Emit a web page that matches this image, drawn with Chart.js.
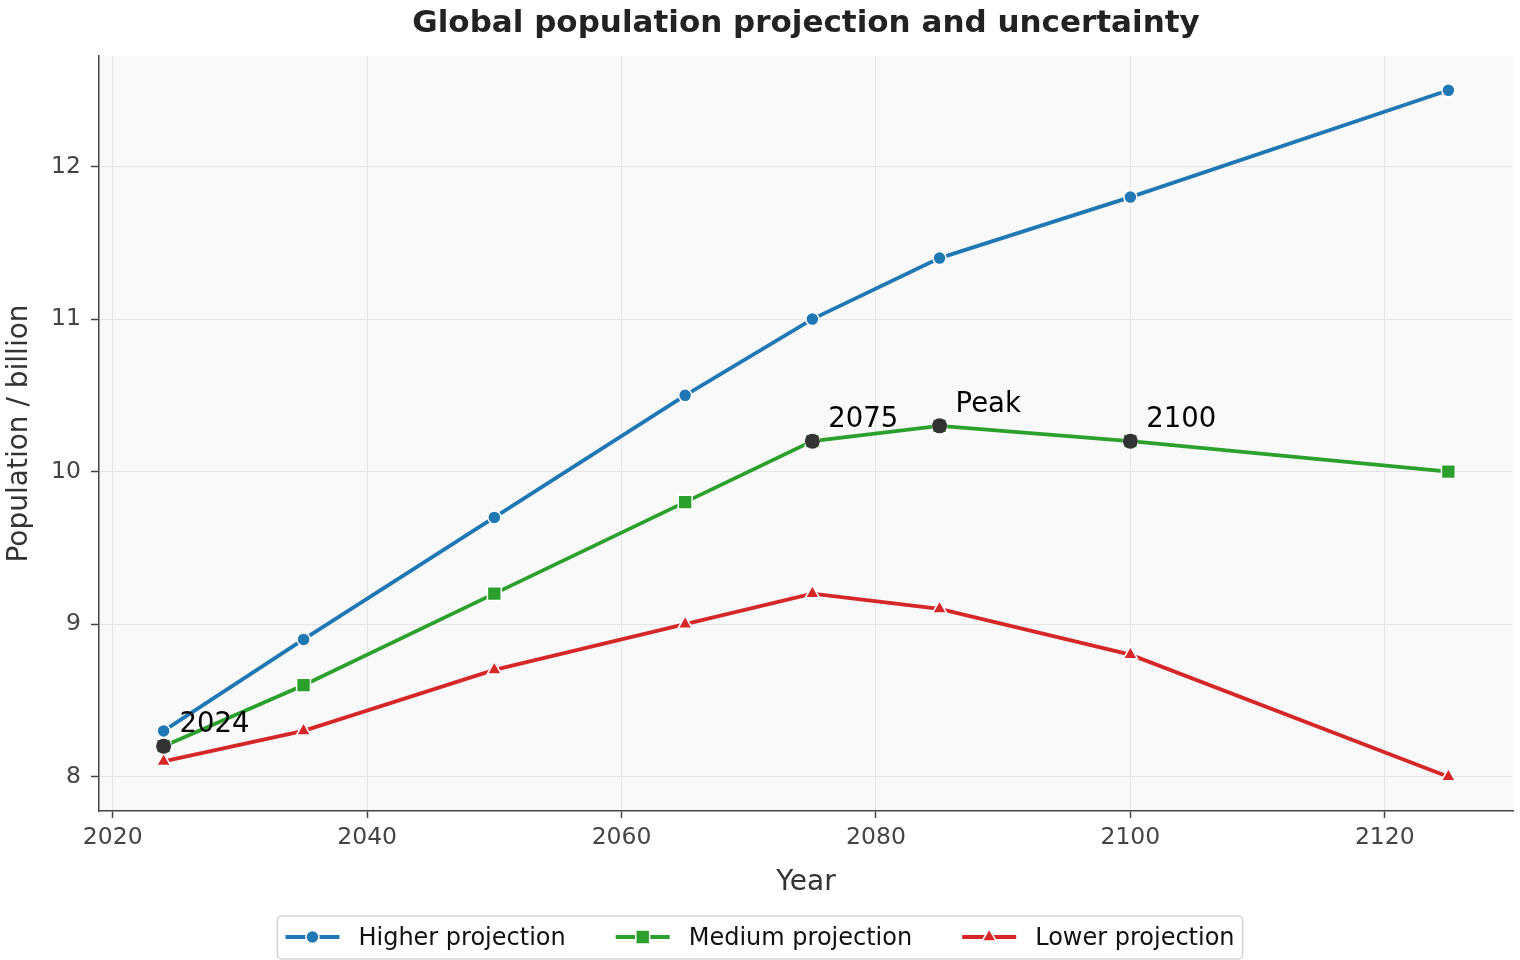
<!DOCTYPE html>
<html>
<head>
<meta charset="utf-8">
<script src="https://cdn.jsdelivr.net/npm/chart.js@4.4.1/dist/chart.umd.min.js"></script>
<style>
  html, body { margin: 0; padding: 0; background: #ffffff; }
  #wrap { width: 1520px; height: 960px; }
</style>
</head>
<body>
<div id="wrap"><canvas id="c" width="1520" height="960"></canvas></div>
<script>
// ---- data ----
const years = [2024, 2035, 2050, 2065, 2075, 2085, 2100, 2125];
const higher = [8.3, 8.9, 9.7, 10.5, 11.0, 11.4, 11.8, 12.5];
const medium = [8.2, 8.6, 9.2, 9.8, 10.2, 10.3, 10.2, 10.0];
const lower = [8.1, 8.3, 8.7, 9.0, 9.2, 9.1, 8.8, 8.0];
const seriesNames = ['Higher projection', 'Medium projection', 'Lower projection'];
const annotYears = [2024, 2075, 2085, 2100];
const annotValues = [8.2, 10.2, 10.3, 10.2];
const annotLabels = ['2024', '2075', 'Peak', '2100'];
const xTicks = [2020, 2040, 2060, 2080, 2100, 2120];
const yTicks = [8, 9, 10, 11, 12];
const titleText = 'Global population projection and uncertainty';
const xTitle = 'Year';
const yTitle = 'Population / billion';

const FONT = "'DejaVu Sans', 'Liberation Sans', sans-serif";
const colors = ['#1f77b4', '#2ca02c', '#d62728'];
const styles = ['circle', 'rect', 'triangle'];
const radii = [6.5, 9.8, 8.2];

const toPts = (vals) => years.map((y, i) => ({ x: y, y: vals[i] }));

const seriesData = [higher, medium, lower];
const datasets = seriesData.map((vals, i) => ({
  label: seriesNames[i],
  data: toPts(vals),
  borderColor: colors[i],
  backgroundColor: colors[i],
  borderWidth: 3.8,
  pointStyle: styles[i],
  pointRadius: radii[i],
  pointBorderColor: '#ffffff',
  pointBorderWidth: 1.5,
  tension: 0,
  fill: false,
  order: 3 - i,
  clip: false
}));
datasets.push({
  label: 'annotations',
  data: annotYears.map((y, i) => ({ x: y, y: annotValues[i] })),
  showLine: false,
  pointStyle: 'circle',
  pointRadius: 7.5,
  backgroundColor: '#333333',
  borderColor: '#333333',
  pointBorderWidth: 0,
  order: 0,
  clip: false
});

function drawMarker(ctx, style, x, y, r, color) {
  ctx.save();
  ctx.fillStyle = color;
  ctx.strokeStyle = '#ffffff';
  ctx.lineWidth = 1.5;
  ctx.beginPath();
  if (style === 'circle') {
    ctx.arc(x, y, r, 0, Math.PI * 2);
  } else if (style === 'rect') {
    const s = r * Math.SQRT1_2;
    ctx.rect(x - s, y - s, 2 * s, 2 * s);
  } else {
    let a = 0;
    ctx.moveTo(x + Math.sin(a) * r, y - Math.cos(a) * r);
    a += 2 * Math.PI / 3;
    ctx.lineTo(x + Math.sin(a) * r, y - Math.cos(a) * r);
    a += 2 * Math.PI / 3;
    ctx.lineTo(x + Math.sin(a) * r, y - Math.cos(a) * r);
    ctx.closePath();
  }
  ctx.fill();
  ctx.stroke();
  ctx.restore();
}

const decor = {
  id: 'decor',
  beforeDraw(chart) {
    const { ctx, chartArea: a } = chart;
    ctx.save();
    ctx.fillStyle = '#ffffff';
    ctx.fillRect(0, 0, chart.width, chart.height);
    ctx.fillStyle = '#f9f9f9';
    ctx.fillRect(a.left, a.top, a.right - a.left, a.bottom - a.top);
    ctx.restore();
  },
  afterDraw(chart) {
    const { ctx, chartArea: a } = chart;
    const xs = chart.scales.x, ys = chart.scales.y;
    ctx.save();
    // title
    ctx.fillStyle = '#222222';
    ctx.font = 'bold 31px ' + FONT;
    ctx.textAlign = 'center';
    ctx.textBaseline = 'alphabetic';
    ctx.fillText(titleText, (a.left + a.right) / 2, 32);
    // axis titles
    ctx.fillStyle = '#333333';
    ctx.font = '28px ' + FONT;
    ctx.fillText(xTitle, (a.left + a.right) / 2, 890);
    ctx.save();
    ctx.translate(20, (a.top + a.bottom) / 2);
    ctx.rotate(-Math.PI / 2);
    ctx.textBaseline = 'middle';
    ctx.fillText(yTitle, 0, 0);
    ctx.restore();
    // annotations
    ctx.fillStyle = '#000000';
    ctx.font = '27.5px ' + FONT;
    ctx.textAlign = 'left';
    ctx.textBaseline = 'alphabetic';
    annotYears.forEach((yr, i) => {
      const px = xs.getPixelForValue(yr);
      const py = ys.getPixelForValue(annotValues[i]);
      ctx.fillText(annotLabels[i], px + 16, py - 14);
    });
    // legend
    ctx.font = '24px ' + FONT;
    const handle = 54, gapText = 19, gapEntry = 50;
    const widths = seriesNames.map(n => ctx.measureText(n).width);
    const total = widths.reduce((s, w) => s + w, 0) + 3 * (handle + gapText) + 2 * gapEntry;
    const cx = 760;
    const bx0 = cx - total / 2 - 8, bx1 = cx + total / 2 + 8;
    const by0 = 916, by1 = 959;
    ctx.beginPath();
    if (ctx.roundRect) ctx.roundRect(bx0, by0, bx1 - bx0, by1 - by0, 4);
    else ctx.rect(bx0, by0, bx1 - bx0, by1 - by0);
    ctx.fillStyle = '#ffffff';
    ctx.fill();
    ctx.strokeStyle = '#d4d4d4';
    ctx.lineWidth = 1.5;
    ctx.stroke();
    let x = cx - total / 2;
    const ly = 937;
    seriesNames.forEach((n, i) => {
      ctx.strokeStyle = colors[i];
      ctx.lineWidth = 3.8;
      ctx.beginPath();
      ctx.moveTo(x, ly);
      ctx.lineTo(x + handle, ly);
      ctx.stroke();
      drawMarker(ctx, styles[i], x + handle / 2, ly, radii[i], colors[i]);
      ctx.fillStyle = '#111111';
      ctx.textAlign = 'left';
      ctx.textBaseline = 'alphabetic';
      ctx.fillText(n, x + handle + gapText, 945);
      x += handle + gapText + widths[i] + gapEntry;
    });
    ctx.restore();
  }
};

new Chart(document.getElementById('c'), {
  type: 'line',
  data: { datasets },
  plugins: [decor],
  options: {
    responsive: false,
    animation: false,
    devicePixelRatio: 1,
    layout: { autoPadding: false, padding: { left: 0, right: 7, top: 56, bottom: 0 } },
    plugins: { legend: { display: false }, title: { display: false }, tooltip: { enabled: false } },
    scales: {
      x: {
        type: 'linear',
        min: 2018.92,
        max: 2130.08,
        afterBuildTicks: (s) => { s.ticks = xTicks.map(v => ({ value: v })); },
        afterFit: (s) => { s.height = 149; s.paddingLeft = 0; s.paddingRight = 0; },
        ticks: {
          callback: (v) => String(v),
          font: { family: FONT, size: 23.5 },
          color: '#444444',
          padding: 6,
          maxRotation: 0,
          autoSkip: false
        },
        grid: { color: '#e6e6e6', lineWidth: 1, tickColor: '#444444', tickLength: 7, tickWidth: 1.5 },
        border: { color: '#444444', width: 1.5 }
      },
      y: {
        type: 'linear',
        min: 7.775,
        max: 12.725,
        afterBuildTicks: (s) => { s.ticks = yTicks.map(v => ({ value: v })); },
        afterFit: (s) => { s.width = 99; s.paddingTop = 0; s.paddingBottom = 0; },
        ticks: {
          callback: (v) => String(v),
          font: { family: FONT, size: 23.5 },
          color: '#444444',
          padding: 10,
          autoSkip: false
        },
        grid: { color: '#e6e6e6', lineWidth: 1, tickColor: '#444444', tickLength: 8, tickWidth: 1.5 },
        border: { color: '#444444', width: 1.5 }
      }
    }
  }
});
</script>
</body>
</html>
